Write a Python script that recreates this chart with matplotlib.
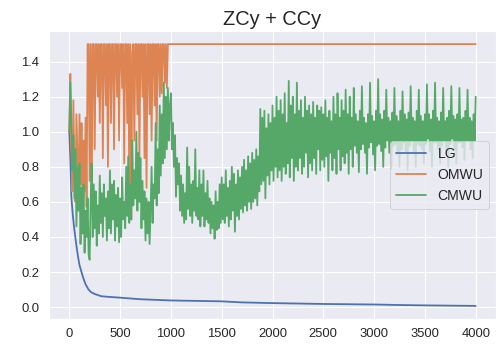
import numpy as np
import matplotlib
matplotlib.use("Agg")
import matplotlib.pyplot as plt
import seaborn as sns

# --- data ---
# iterations sampled every 10 steps for the two oscillating methods
X_STEP = 10
X_MAX = 4000

LG_X = [0, 10, 20, 35, 50, 70, 85, 100, 120, 135, 160, 190, 215, 250, 315,
        400, 500, 700, 1000, 1300, 1500, 1700, 2000, 2500, 3000, 3260, 3500, 4000]
LG_Y = [1.00, 0.84, 0.63, 0.52, 0.44, 0.35, 0.29, 0.24, 0.20, 0.17, 0.13, 0.10,
        0.085, 0.075, 0.062, 0.058, 0.054, 0.045, 0.038, 0.035, 0.033, 0.027,
        0.023, 0.018, 0.015, 0.012, 0.010, 0.007]

# OMWU saturates at 1.5 from iteration 1000 on
OMWU_Y = [
    1.00, 1.33, 0.90, 0.66, 1.18, 0.75, 0.60, 1.10, 0.85, 0.62,
    1.10, 0.70, 1.05, 0.58, 0.95, 0.66, 1.08, 0.57, 1.50, 1.50,
    0.72, 1.50, 0.60, 1.50, 1.50, 0.90, 1.50, 1.50, 1.20, 1.50,
    1.05, 1.50, 1.50, 0.85, 1.50, 1.50, 1.15, 1.50, 0.80, 1.50,
    1.50, 1.05, 1.50, 1.50, 0.90, 1.50, 1.50, 1.20, 1.50, 0.95,
    1.50, 1.50, 1.25, 1.50, 0.82, 1.50, 1.50, 1.05, 1.50, 0.70,
    1.50, 0.50, 1.45, 1.50, 0.95, 1.50, 1.50, 1.10, 1.50, 0.85,
    1.50, 1.50, 1.20, 1.50, 0.85, 1.50, 0.68, 1.50, 1.50, 1.10,
    1.50, 0.95, 1.50, 1.50, 1.15, 1.50, 0.95, 1.50, 1.50, 1.20,
    1.50, 1.22, 1.50, 1.50, 1.28, 1.50, 1.25, 1.50, 1.50, 1.50,
] + [1.50] * 301

CMWU_Y = [
    1.00, 1.28, 1.05, 0.78, 0.98, 0.62, 0.90, 0.46, 0.80, 0.55,
    0.82, 0.36, 0.68, 0.42, 0.70, 0.31, 0.55, 0.40, 0.62, 0.30,
    0.27, 0.60, 0.82, 0.40, 0.70, 0.45, 0.66, 0.35, 0.58, 0.42,
    0.75, 0.48, 0.65, 0.40, 0.70, 0.52, 0.62, 0.38, 0.66, 0.45,
    0.78, 0.42, 0.70, 0.50, 0.72, 0.38, 0.64, 0.46, 0.68, 0.37,
    0.62, 0.40, 0.74, 0.50, 0.60, 0.45, 0.80, 0.52, 0.86, 0.48,
    0.70, 0.50, 0.95, 0.58, 0.78, 0.62, 1.00, 0.55, 0.88, 0.60,
    0.85, 0.45, 0.72, 0.50, 0.66, 0.38, 0.62, 0.42, 0.60, 0.36,
    0.55, 0.80, 0.48, 0.70, 0.62, 1.05, 0.58, 0.90, 0.65, 1.15,
    0.75, 1.10, 0.82, 1.28, 0.85, 1.20, 0.90, 1.25, 0.95, 1.15,
    1.22, 0.90, 1.05, 0.80, 0.98, 0.63, 0.85, 0.70, 0.82, 0.55,
    0.75, 0.52, 0.70, 0.48, 0.65, 0.50, 0.91, 0.56, 0.80, 0.52,
    0.70, 0.48, 0.72, 0.55, 0.90, 0.52, 0.68, 0.50, 0.78, 0.46,
    0.70, 0.52, 0.78, 0.46, 0.65, 0.50, 0.72, 0.48, 0.62, 0.42,
    0.60, 0.45, 0.58, 0.39, 0.66, 0.44, 0.60, 0.45, 0.70, 0.48,
    0.74, 0.50, 0.70, 0.48, 0.78, 0.52, 0.68, 0.46, 0.72, 0.50,
    0.80, 0.55, 0.76, 0.43, 0.70, 0.52, 0.78, 0.50, 0.74, 0.56,
    0.80, 0.54, 0.84, 0.58, 0.78, 0.55, 0.86, 0.60, 0.82, 0.56,
    0.88, 0.60, 0.84, 0.62, 0.90, 0.58, 0.86, 0.66, 1.13, 0.70,
    1.08, 0.72, 1.12, 0.62, 1.02, 0.75, 1.10, 0.70, 1.05, 0.78,
    1.15, 0.72, 1.08, 0.80, 1.20, 0.74, 1.12, 0.78, 1.18, 0.72,
    1.10, 0.80, 1.22, 0.76, 1.05, 0.82, 1.29, 0.74, 1.15, 0.85,
    1.20, 0.72, 1.10, 0.80, 1.28, 0.78, 1.12, 0.85, 1.18, 0.76,
    1.08, 0.80, 1.20, 0.88, 1.12, 0.74, 1.15, 0.82, 1.10, 0.78,
    1.17, 0.85, 1.08, 0.76, 1.15, 0.90, 1.12, 0.78, 1.14, 0.84,
    1.10, 0.80, 1.18, 0.86, 1.08, 0.72, 1.12, 0.88, 1.06, 0.78,
    1.20, 0.85, 1.10, 0.76, 1.22, 0.90, 1.08, 0.78, 1.18, 0.86,
    1.12, 0.82, 1.24, 0.88, 1.10, 0.76, 1.20, 0.90, 1.08, 0.80,
    1.25, 0.92, 1.10, 0.88, 1.06, 0.77, 1.12, 0.90, 1.26, 0.93,
    1.08, 0.88, 1.05, 0.76, 1.10, 0.91, 1.28, 0.94, 1.09, 0.87,
    1.06, 0.78, 1.12, 0.92, 1.30, 0.93, 1.10, 0.89, 1.07, 0.80,
    1.12, 0.91, 1.24, 0.95, 1.08, 0.88, 1.06, 0.79, 1.11, 0.92,
    1.25, 0.93, 1.09, 0.88, 1.06, 0.80, 1.12, 0.90, 1.23, 0.94,
    1.10, 0.89, 1.07, 0.78, 1.11, 0.92, 1.26, 0.95, 1.08, 0.88,
    1.06, 0.80, 1.12, 0.93, 1.24, 0.92, 1.09, 0.90, 1.06, 0.82,
    1.10, 0.93, 1.27, 0.96, 1.10, 0.89, 1.07, 0.80, 1.12, 0.94,
    1.28, 0.94, 1.08, 0.90, 1.06, 0.82, 1.11, 0.92, 1.25, 0.95,
    1.06, 0.89, 1.08, 0.80, 1.12, 0.93, 1.26, 0.96, 1.09, 0.90,
    1.07, 0.82, 1.10, 0.94, 1.25, 0.94, 1.07, 0.91, 1.08, 0.84,
    1.12, 0.95, 1.24, 0.95, 1.08, 0.90, 1.06, 0.85, 1.10, 0.95,
    1.20,
]

TITLE = "ZCy + CCy"
LABELS = ["LG", "OMWU", "CMWU"]

# --- style ---
sns.set_theme(style="darkgrid", context="notebook")
plt.rcParams["font.family"] = ["Liberation Sans", "DejaVu Sans"]
plt.rcParams["xtick.labelsize"] = 13
plt.rcParams["ytick.labelsize"] = 13
plt.rcParams["legend.fontsize"] = 14
plt.rcParams["axes.titlesize"] = 20
plt.rcParams["lines.linewidth"] = 1.8

x_grid = np.arange(0, X_MAX + 1, X_STEP)

fig = plt.figure(figsize=(497 / 72, 350 / 72), dpi=72)
ax = fig.add_axes([0.0986, 0.0886, 0.8994, 0.8228])

ax.plot(LG_X, LG_Y, label=LABELS[0])
ax.plot(x_grid, OMWU_Y, label=LABELS[1])
ax.plot(x_grid, CMWU_Y, label=LABELS[2])

ax.set_title(TITLE)
ax.legend(loc="center right", handlelength=2.2)

fig.savefig("out.png", dpi=72)
